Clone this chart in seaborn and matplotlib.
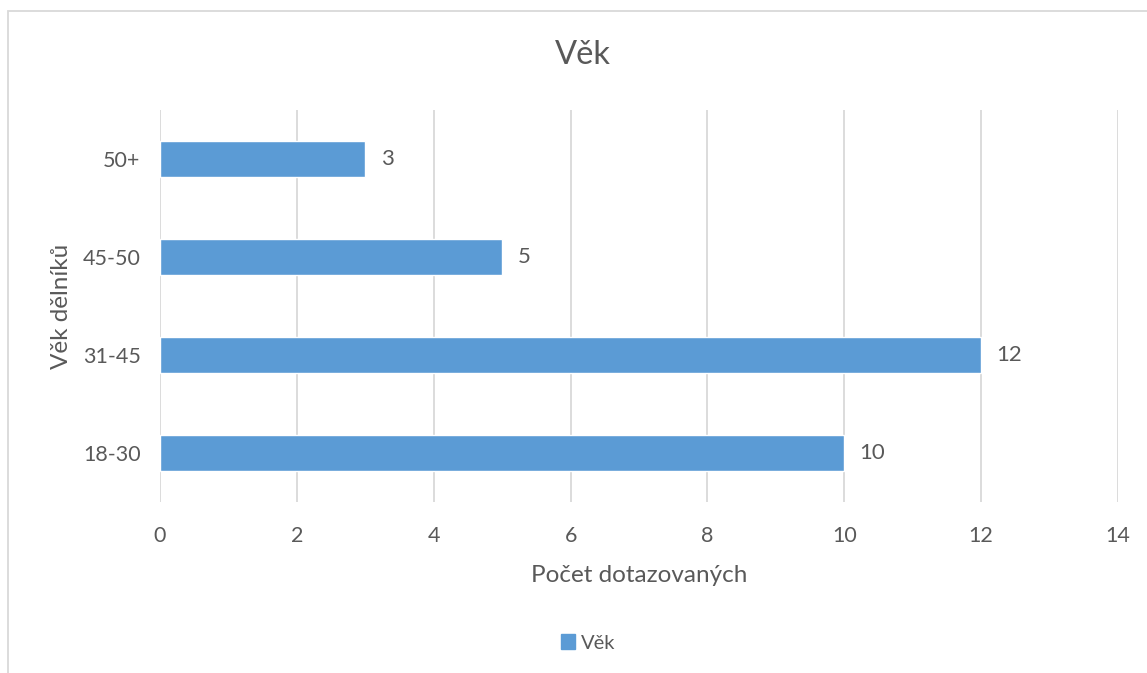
import matplotlib
matplotlib.use("Agg")
import matplotlib.pyplot as plt
import matplotlib.patches as mpatches
import seaborn as sns
import pandas as pd

# Survey data: age groups of workers and number of respondents
categories = ["50+", "45-50", "31-45", "18-30"]
counts = [3, 5, 12, 10]
series_name = "Věk"
x_ticks = [0, 2, 4, 6, 8, 10, 12, 14]

BAR = "#5B9BD5"
TEXT = "#595959"
GRID = "#D9D9D9"

sns.set_theme(style="white")
plt.rcParams["font.family"] = ["Lato", "DejaVu Sans"]

df = pd.DataFrame({"group": categories, "count": counts})

W, H = 1147, 673
fig = plt.figure(figsize=(W / 100, H / 100), dpi=100)
ax = fig.add_axes([160 / W, 1 - 502 / H, (1118 - 160) / W, (502 - 110) / H])

sns.barplot(data=df, x="count", y="group", order=categories, orient="h",
            color=BAR, saturation=1, width=0.365, ax=ax)

ax.set_xlim(0, 14)
ax.set_xticks(x_ticks)
ax.set_xticklabels([str(t) for t in x_ticks])
ax.xaxis.grid(True, color=GRID, linewidth=1.3)
ax.yaxis.grid(False)
ax.set_axisbelow(True)
for s in ax.spines.values():
    s.set_visible(False)
ax.tick_params(axis="both", length=0, labelsize=15.5, colors=TEXT)
ax.tick_params(axis="x", pad=17)
ax.tick_params(axis="y", pad=14)

for patch, v in zip(ax.patches, counts):
    y = patch.get_y() + patch.get_height() / 2
    ax.annotate(str(v), (patch.get_width(), y), xytext=(11, 0),
                textcoords="offset points", va="center", ha="left",
                fontsize=16, color=TEXT)

ax.set_xlabel("Počet dotazovaných", fontsize=17.5, color=TEXT, labelpad=14)
ax.set_ylabel("Věk dělníků", fontsize=17.5, color=TEXT, labelpad=8)
fig.text(583 / W, 1 - 55 / H, "Věk",
         ha="center", va="center", fontsize=23.5, color=TEXT)

handle = mpatches.Patch(color=BAR, label=series_name)
fig.legend(handles=[handle], loc="center", bbox_to_anchor=(588 / W, 1 - 643 / H),
           frameon=False, fontsize=14.5, labelcolor=TEXT, handlelength=0.7,
           handleheight=0.7, handletextpad=0.3)

# chart area border
fig.patches.append(mpatches.Rectangle((8 / W, -0.1), 1.2, 1 - 11 / H + 0.1,
                                      transform=fig.transFigure, fill=False,
                                      edgecolor=GRID, linewidth=1.3))

fig.savefig("out.png", dpi=100)
